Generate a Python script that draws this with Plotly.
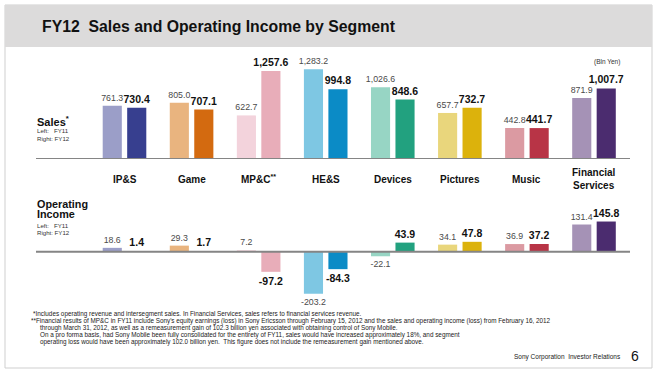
import plotly.graph_objects as go

# ---------------- data ----------------
segments = ["IP&S", "Game", "MP&C", "HE&S", "Devices", "Pictures", "Music", "Financial Services"]
segment_labels = ["IP&S", "Game", "MP&C<sup>**</sup>", "HE&S", "Devices", "Pictures", "Music", "Financial<br>Services"]
sales_fy11 = [761.3, 805.0, 622.7, 1283.2, 1026.6, 657.7, 442.8, 871.9]
sales_fy12 = [730.4, 707.1, 1257.6, 994.8, 848.6, 732.7, 441.7, 1007.7]
oi_fy11 = [18.6, 29.3, 7.2, -203.2, -22.1, 34.1, 36.9, 131.4]
oi_fy12 = [1.4, 1.7, -97.2, -84.3, 43.9, 47.8, 37.2, 145.8]
colors_fy11 = ["#9b9ec8", "#e9b47f", "#f3d3dc", "#7ec7e3", "#97d5c4", "#e9d67c", "#db9aa2", "#a592b6"]
colors_fy12 = ["#373f8f", "#d36a10", "#e8adb9", "#0b8bc6", "#22a17f", "#dcb20c", "#b83446", "#4b2c6f"]
footnotes = [
    "*Includes operating revenue and intersegment sales. In Financial Services, sales refers to financial services revenue.",
    "**Financial results of MP&C in FY11 include Sony's equity earnings (loss) in Sony Ericsson through February 15, 2012 and the sales and operating income (loss) from February 16, 2012",
    "through March 31, 2012, as well as a remeasurement gain of 102.3 billion yen associated with obtaining control of Sony Mobile.",
    "On a pro forma basis, had Sony Mobile been fully consolidated for the entirety of FY11, sales would have increased approximately 18%, and segment",
    "operating loss would have been approximately 102.0 billion yen.  This figure does not include the remeasurement gain mentioned above.",
]

W, H = 660, 376
FONT = "Liberation Sans"


def px(x):
    return x / W


def py(y):
    return 1 - y / H


def fmt(v):
    return f"{v:,.1f}"


# ---------------- geometry ----------------
x_left, x_right = 36, 630
c0, step = 124.5, 67.07
xr = [(x_left - c0) / step, (x_right - c0) / step]

s_base, s_top, s_scale = 159, 62, 0.0700
o_base, o_top, o_bot, o_scale = 251.7, 200, 300, 0.207

bw = 0.285
off_l, off_r = -0.325, 0.04

fig = go.Figure()

def add_pair(y11, y12, xa, ya):
    fig.add_trace(go.Bar(
        x=segments, y=y11, xaxis=xa, yaxis=ya, width=bw, offset=off_l,
        marker=dict(color=colors_fy11, line=dict(width=0)),
        text=[fmt(v) for v in y11], textposition="outside", textangle=0,
        constraintext="none", cliponaxis=False,
        textfont=dict(family=FONT, size=8.8, color="#4a4a4a"),
        showlegend=False, hoverinfo="skip"))
    fig.add_trace(go.Bar(
        x=segments, y=y12, xaxis=xa, yaxis=ya, width=bw, offset=off_r,
        marker=dict(color=colors_fy12, line=dict(width=0)),
        text=[fmt(v) for v in y12], textposition="outside", textangle=0,
        constraintext="none", cliponaxis=False,
        textfont=dict(family=FONT, size=10.5, color="#111111", weight="bold"),
        showlegend=False, hoverinfo="skip"))

add_pair(sales_fy11, sales_fy12, "x", "y")
add_pair(oi_fy11, oi_fy12, "x2", "y2")

axis_common = dict(showgrid=False, zeroline=False, showline=False, showticklabels=False, ticks="")
fig.update_layout(
    width=W, height=H, margin=dict(l=0, r=0, t=0, b=0),
    paper_bgcolor="white", plot_bgcolor="rgba(0,0,0,0)",
    barmode="overlay",
    xaxis=dict(domain=[px(x_left), px(x_right)], range=xr, type="category",
               categoryorder="array", categoryarray=segments, anchor="y", **axis_common),
    xaxis2=dict(domain=[px(x_left), px(x_right)], range=xr, type="category",
                categoryorder="array", categoryarray=segments, anchor="y2", **axis_common),
    yaxis=dict(domain=[py(s_base), py(s_top)], range=[0, (s_base - s_top) / s_scale], anchor="x", **axis_common),
    yaxis2=dict(domain=[py(o_bot), py(o_top)],
                range=[-(o_bot - o_base) / o_scale, (o_base - o_top) / o_scale], anchor="x2", **axis_common),
    font=dict(family=FONT),
)

shapes = []
# slide frame and title band
shapes.append(dict(type="rect", xref="paper", yref="paper", x0=px(5), x1=px(652), y0=py(368), y1=py(5),
                   line=dict(color="#cfcfcf", width=1), fillcolor="white", layer="below"))
shapes.append(dict(type="rect", xref="paper", yref="paper", x0=px(5), x1=px(652), y0=py(47), y1=py(5),
                   line=dict(width=0), fillcolor="#dcdbdb", layer="below"))
# baselines
shapes.append(dict(type="line", xref="x domain", yref="y", x0=0, x1=1, y0=0, y1=0,
                   line=dict(color="#858585", width=2)))
shapes.append(dict(type="line", xref="x2 domain", yref="y2", x0=0, x1=1, y0=0, y1=0,
                   line=dict(color="#858585", width=2)))
fig.update_layout(shapes=shapes)

ann = []
def text(x, y, s, size, color="#000", bold=False, xanchor="left", yanchor="middle", **kw):
    ann.append(dict(x=px(x), y=py(y), xref="paper", yref="paper", text=s, showarrow=False,
                    xanchor=xanchor, yanchor=yanchor,
                    font=dict(family=FONT, size=size, color=color, weight="bold" if bold else "normal"), **kw))

text(40, 27, "FY12\u00a0\u00a0Sales and Operating Income by Segment", 15.8, "#111", True)
text(607, 62, "(Bln Yen)", 6.5, "#333", xanchor="center")
text(35, 121, "Sales<sup>*</sup>", 11, "#111", True)
text(35, 131, "Left:\u00a0\u00a0\u00a0FY11", 6.1, "#333")
text(35, 138, "Right:\u00a0FY12", 6.1, "#333")
text(35, 203.5, "Operating", 10.8, "#111", True)
text(35, 214, "Income", 10.8, "#111", True)
text(35, 225.5, "Left:\u00a0\u00a0\u00a0FY11", 6.1, "#333")
text(35, 232.5, "Right:\u00a0FY12", 6.1, "#333")

# category labels
for seg, lab in zip(segments, segment_labels):
    ann.append(dict(x=seg, y=py(179), xref="x", yref="paper", text=lab, showarrow=False,
                    xanchor="center", yanchor="middle",
                    font=dict(family=FONT, size=10, color="#111", weight="bold")))

# footnotes
foot_x = [31, 29, 38, 38, 38]
foot_y = [314, 321, 328, 335, 342]
for fx, fy, s in zip(foot_x, foot_y, footnotes):
    text(fx, fy, s, 6.35, "#222")

text(623, 357, "Sony Corporation\u00a0\u00a0Investor Relations", 6.5, "#222", xanchor="right")
text(629, 356, "6", 14, "#111")

fig.update_layout(annotations=ann)
fig.write_html("out.html", config={"displayModeBar": False, "staticPlot": True},
               post_script="document.body.style.margin='0';document.body.style.overflow='hidden';")
